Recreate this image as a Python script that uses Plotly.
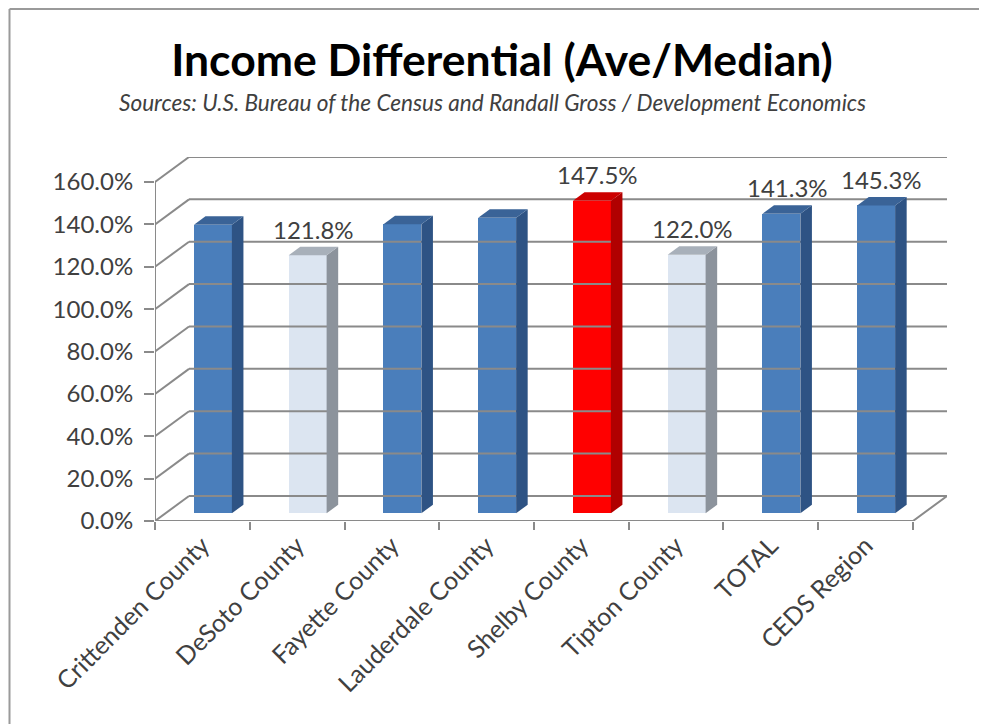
import plotly.graph_objects as go

categories = ["Crittenden County", "DeSoto County", "Fayette County", "Lauderdale County",
              "Shelby County", "Tipton County", "TOTAL", "CEDS Region"]
values = [136.2, 121.8, 136.4, 139.5, 147.5, 122.0, 141.3, 145.3]
show_label = [False, True, False, False, True, True, True, True]
y_ticks = [0, 20, 40, 60, 80, 100, 120, 140, 160]

palette = {
    "blue": ("#4A7EBB", "#2E5384", "#3A6397"),
    "light": ("#DCE5F1", "#8C939C", "#A8B0BA"),
    "red": ("#FF0000", "#B00000", "#CC0000"),
}
bar_style = ["blue", "light", "blue", "blue", "red", "light", "blue", "blue"]

# 3-D projection parameters (in axis units)
DX = 0.359      # horizontal depth offset of back wall
DY = 11.8       # vertical depth offset of back wall
F0, F1 = 0.31, 0.65   # bar front/back depth fractions
BW = 0.40       # bar width
grid_col = "#8A8A8A"
txt_col = "#404040"
FONT = "Lato, sans-serif"

# page offset of the figure (default body margin)
OFF = 8
W, H = 987 - OFF, 724 - OFF
ML, MT, MR, MB = 155 - OFF, 157 - OFF, 40, 203
PW, PH = W - ML - MR, H - MT - MB


def px_to_paper_x(px):
    return (px - 155) / PW


def px_to_paper_y(py):
    return (521 - py) / PH


n = len(categories)
x_lo, x_hi = -0.5, n - 0.5
fig = go.Figure()

# back wall gridlines, left wall diagonals
gx, gy = [], []
for v in y_ticks:
    gx += [x_lo + DX, x_hi + DX, None]
    gy += [v + DY, v + DY, None]
    gx += [x_lo, x_lo + DX, None]
    gy += [v, v + DY, None]
# floor edges and y axis line
gx += [x_lo, x_hi, x_hi + DX, None, x_lo, x_lo, None]
gy += [0, 0, DY, None, 0, y_ticks[-1], None]
fig.add_trace(go.Scatter(x=gx, y=gy, mode="lines", line=dict(color=grid_col, width=2),
                         hoverinfo="skip", showlegend=False, cliponaxis=False))

base = F0 * DY
fx = F0 * DX
bdx = (F1 - F0) * DX
bdy = (F1 - F0) * DY

# side and top faces
for i, v in enumerate(values):
    front, side, top = palette[bar_style[i]]
    xc = i + fx
    xl, xr = xc - BW / 2, xc + BW / 2
    t = base + v
    fig.add_trace(go.Scatter(
        x=[xr, xr + bdx, xr + bdx, xr, xr], y=[base, base + bdy, t + bdy, t, base],
        mode="lines", fill="toself", fillcolor=side, line=dict(width=0, color=side),
        hoverinfo="skip", showlegend=False))
    fig.add_trace(go.Scatter(
        x=[xl, xl + bdx, xr + bdx, xr, xl], y=[t, t + bdy, t + bdy, t, t],
        mode="lines", fill="toself", fillcolor=top, line=dict(width=0, color=top),
        hoverinfo="skip", showlegend=False, cliponaxis=False))

# front faces
fig.add_trace(go.Bar(
    x=[i + fx for i in range(n)], y=values, base=[base] * n, width=BW,
    marker=dict(color=[palette[s][0] for s in bar_style], line=dict(width=0)),
    showlegend=False, hoverinfo="skip"))

# carrier for category boundary tick marks
fig.add_trace(go.Scatter(x=[None], y=[None], xaxis="x2", showlegend=False, hoverinfo="skip"))

annotations = []
for i, v in enumerate(values):
    if show_label[i]:
        annotations.append(dict(
            x=i + fx + bdx / 2, y=base + v + bdy, xref="x", yref="y",
            text=f"{v:.1f}%", showarrow=False, yanchor="bottom", yshift=1,
            font=dict(family=FONT, size=24, color=txt_col)))

annotations.append(dict(
    x=px_to_paper_x(492), y=px_to_paper_y(102), xref="paper", yref="paper",
    text="<i>Sources: U.S. Bureau of the Census and Randall Gross / Development Economics</i>",
    showarrow=False, xanchor="center", yanchor="middle",
    font=dict(family=FONT, size=22.6, color=txt_col)))

bx, by = px_to_paper_x(9.5), px_to_paper_y(9)
shapes = [
    dict(type="line", xref="paper", yref="paper", x0=bx, x1=bx,
         y0=by, y1=px_to_paper_y(724), line=dict(color="#9A9A9A", width=2)),
    dict(type="line", xref="paper", yref="paper", x0=bx, x1=px_to_paper_x(987),
         y0=by, y1=by, line=dict(color="#9A9A9A", width=2)),
]

fig.update_layout(
    width=W, height=H,
    margin=dict(l=ML, r=MR, t=MT, b=MB),
    paper_bgcolor="white", plot_bgcolor="white",
    title=dict(text="<b>Income Differential (Ave/Median)</b>", x=(502 - OFF) / W, xanchor="center",
               y=1 - (60 - OFF) / H, yanchor="middle",
               font=dict(family=FONT, size=44.5, color="#000000")),
    xaxis=dict(range=[x_lo, x_hi + DX], tickmode="array", tickvals=list(range(n)),
               ticktext=categories, tickangle=-45, showgrid=False, zeroline=False,
               showline=False, ticks="", ticklabelstandoff=4, automargin=False,
               tickfont=dict(family=FONT, size=25, color=txt_col)),
    xaxis2=dict(range=[x_lo, x_hi + DX], overlaying="x", side="bottom", tickmode="array",
                tickvals=[k - 0.5 for k in range(n + 1)], showticklabels=False,
                ticks="outside", ticklen=8, tickwidth=2, tickcolor=grid_col,
                showgrid=False, zeroline=False, showline=False, automargin=False),
    yaxis=dict(range=[0, y_ticks[-1] + DY], tickmode="array", tickvals=y_ticks,
               ticktext=[f"{v:.1f}%" for v in y_ticks], ticks="outside", ticklen=10,
               tickwidth=2, tickcolor=grid_col, showgrid=False, zeroline=False, showline=False,
               ticklabelstandoff=6, automargin=False,
               tickfont=dict(family=FONT, size=24, color=txt_col)),
    annotations=annotations, shapes=shapes, bargap=0,
)

fig.write_html("out.html")
